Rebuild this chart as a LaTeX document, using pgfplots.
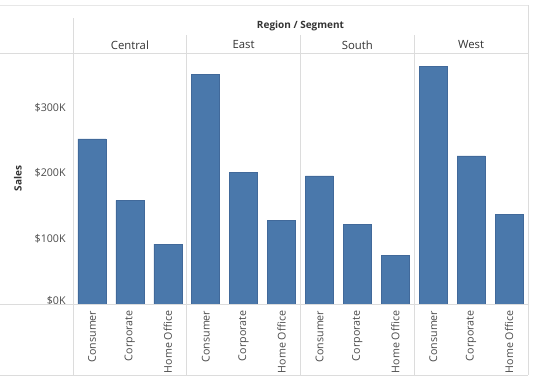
\documentclass[border=0pt]{standalone}
\usepackage{pgfplots}
\pgfplotsset{compat=1.18}
\usepackage{fontspec}
\setmainfont{Open Sans}
\usetikzlibrary{calc}
\definecolor{barblue}{HTML}{4A78AB}
\definecolor{baredge}{HTML}{41699A}
\definecolor{gridc}{HTML}{DCDCDC}
\definecolor{txt}{HTML}{4A4A4A}
\definecolor{hdr}{HTML}{333333}

\begin{document}
\begin{tikzpicture}
\begin{axis}[
  name=ax,
  scale only axis,
  width=341.25pt, height=188.25pt,
  xmin=-0.5, xmax=11.5, ymin=0, ymax=383,
  axis line style={draw=none},
  ybar, bar width=21pt,
  xtick=data,
  xticklabels={Consumer,Corporate,Home Office,Consumer,Corporate,Home Office,Consumer,Corporate,Home Office,Consumer,Corporate,Home Office},
  xticklabel style={rotate=90, anchor=east, font=\fontsize{8}{9}\selectfont, text=txt},
  xticklabel shift=1.5pt,
  ytick={0,100,200,300},
  yticklabels={\raisebox{5pt}{\$0K},\$100K,\$200K,\$300K},
  yticklabel style={font=\fontsize{8}{9}\selectfont, text=txt},
  yticklabel shift=2pt,
  major tick length=0pt,
  /pgf/number format/assume math mode=true,
  clip=false,
]
\addplot[fill=barblue, draw=baredge, line width=0.4pt] coordinates {
  (0,252.0) (1,158.0) (2,91.2)
  (3,350.9) (4,200.4) (5,127.5)
  (6,195.6) (7,121.9) (8,74.3)
  (9,362.9) (10,225.9) (11,136.7)
};
\coordinate (BL) at (rel axis cs:0,0);
\coordinate (TR) at (rel axis cs:1,1);
\pgfplotsinvokeforeach{2.5,5.5,8.5}{
  \draw[gridc, line width=0.6pt] ([yshift=-53.25pt]axis cs:#1,0) -- ([yshift=13.5pt]axis cs:#1,383);
}
\node[font=\fontsize{8.5}{10}\selectfont, text=hdr] at ([yshift=6pt]axis cs:1,383) {Central};
\node[font=\fontsize{8.5}{10}\selectfont, text=hdr] at ([yshift=6pt]axis cs:4,383) {East};
\node[font=\fontsize{8.5}{10}\selectfont, text=hdr] at ([yshift=6pt]axis cs:7,383) {South};
\node[font=\fontsize{8.5}{10}\selectfont, text=hdr] at ([yshift=6pt]axis cs:10,383) {West};
\end{axis}
% frame lines
\draw[gridc, line width=0.6pt] ($(BL)+(-54.75pt,0)$) -- (BL -| TR);
\draw[gridc, line width=0.6pt] (TR) -- ($(BL|-TR)+(-54.75pt,0)$);
\draw[gridc, line width=0.6pt] ($(BL)+(-54.75pt,-53.25pt)$) -- ($(BL-|TR)+(0,-53.25pt)$);
\draw[gridc!70, line width=0.6pt] ($(BL|-TR)+(-54.75pt,36pt)$) -- ($(TR)+(0,36pt)$);
\draw[gridc, line width=0.6pt] ($(BL)+(0,-53.25pt)$) -- ($(BL|-TR)+(0,26.25pt)$);
\draw[gridc, line width=0.6pt] ($(BL-|TR)+(0,-53.25pt)$) -- ($(TR)+(0,36pt)$);
% titles
\node[font=\bfseries\fontsize{7.5}{9}\selectfont, text=hdr] at ($($(BL|-TR)!0.5!(TR)$)+(0,20pt)$) {Region / Segment};
\node[font=\bfseries\fontsize{7.5}{9}\selectfont, text=hdr, rotate=90] at ($($(BL)!0.5!(BL|-TR)$)+(-41.25pt,0)$) {Sales};
\pgfresetboundingbox
\useasboundingbox ($(BL)+(-54.75pt,-60.75pt)$) rectangle ($(TR)+(9pt,39.75pt)$);
\end{tikzpicture}
\end{document}
